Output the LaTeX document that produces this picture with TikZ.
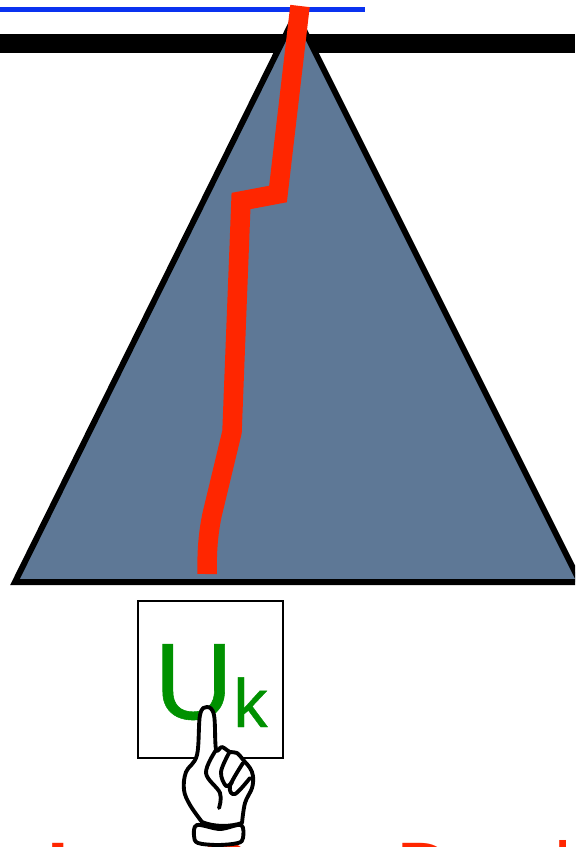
\documentclass[tikz,border=0pt]{standalone}
\usepackage{fontspec}
\setmainfont{Liberation Sans}
\newfontfamily\ukfont[FakeBold=0.5]{Liberation Sans}
\definecolor{TreeBlue}{RGB}{94,120,150}
\definecolor{PathRed}{RGB}{255,38,0}
\definecolor{LineBlue}{RGB}{10,50,240}
\definecolor{UkGreen}{RGB}{0,145,0}

\begin{document}
\begin{tikzpicture}[x=0.02cm, y=-0.02cm,
      handline/.style={draw=black, line width=2.2pt, line cap=round, line join=round},
      redtext/.style={anchor=base west, inner sep=0pt, text=PathRed, font=\fontsize{44}{44}\selectfont},
      uktext/.style={anchor=base west, inner sep=0pt, text=UkGreen}
    ]
    \useasboundingbox (0,0) rectangle (575,847);
    \clip (0,0) rectangle (575,847);

    \draw[LineBlue, line width=5*0.02cm] (0,9.5) -- (365,9.5);
    \draw[black, line width=19*0.02cm] (0,43.5) -- (575,43.5);

    \coordinate (apex) at (296,14);
    \coordinate (left) at (15,582);
    \coordinate (right) at (580,582);
    \draw[black, fill=TreeBlue, line width=6*0.02cm, line join=miter] (apex) -- (left) -- (right) -- cycle;

    % path through the tree
    \draw[PathRed, line width=19.5*0.02cm, line join=miter]
      (300,6) -- (278,194) -- (241,201) -- (232,432) -- (212,515)
      .. controls (208,535) and (207,550) .. (207,574);

    \node[draw=black, line width=2.5*0.02cm, minimum width=2.9cm, minimum height=3.14cm,
          inner sep=0pt] (ukbox) at (210.5,679.5) {};
    \node[uktext, font=\ukfont\fontsize{62}{62}\selectfont] (ubig) at (154,719) {U};
    \node[uktext, font=\ukfont\fontsize{39}{39}\selectfont] (ksub) at (233,727) {k};

    \node[redtext, font=\fontsize{44}{44}\selectfont\bfseries] (lowa) at (47,896) {L};
    \node[redtext] (lowb) at (194,896) {O};
    \node[redtext] (lowc) at (396,896) {D};
    \node[redtext] (lowd) at (554,896) {ll};

    % the hand
    \filldraw[handline, fill=white] plot[smooth, tension=0.6] coordinates {
      (202,822) (190,805) (184,790) (186,772) (197,755) (200,715) (207,707) (214,715) (216,749)
      (222,747) (230,752) (237,753) (245,762) (250,768) (253,776) (252,788) (245,803) (242,823)}
      .. controls (230,827) and (214,827) .. (202,822);
    \draw[handline] plot[smooth, tension=0.6] coordinates {(216,750) (206,773) (220,793) (219,808)};
    \draw[handline] plot[smooth, tension=0.6] coordinates {(229,753) (221,772) (226,786) (232,782)};
    \draw[handline] plot[smooth, tension=0.6] coordinates {(243,763) (230,786) (235,794) (250,778)};
    \draw[handline, fill=white] plot[smooth cycle, tension=0.55] coordinates {
      (197,825) (220,829) (241,825) (243,838) (238,843) (218,845) (198,843) (194,836)};
\end{tikzpicture}
\end{document}
